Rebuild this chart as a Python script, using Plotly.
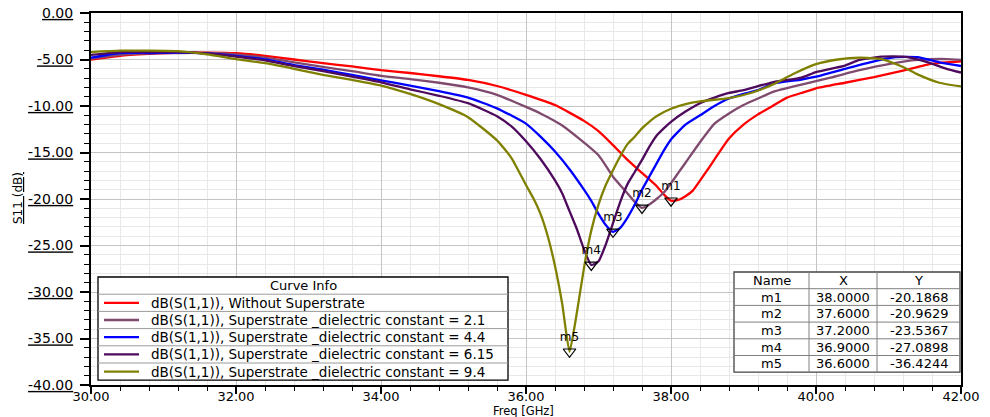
import plotly.graph_objects as go

# ---------------- data ----------------
freq_red = [30.0, 30.4, 30.8, 31.2, 31.6, 32.0, 32.4, 32.8, 33.2, 33.6, 34.0, 34.4, 34.8, 35.2, 35.6,
            36.0, 36.4, 36.8, 37.0, 37.2, 37.4, 37.6, 37.8, 37.9, 38.0, 38.1, 38.2, 38.3, 38.5, 38.8,
            39.0, 39.2, 39.4, 39.6, 39.8, 40.0, 40.4, 40.8, 41.2, 41.6, 42.0]
s11_red = [-5.0, -4.6, -4.4, -4.25, -4.25, -4.32, -4.6, -5.0, -5.4, -5.75, -6.15, -6.45, -6.8, -7.2, -7.85,
           -8.8, -9.9, -11.6, -12.7, -14.2, -15.8, -17.2, -18.6, -19.5, -20.1868, -20.1, -19.7, -19.1, -16.9, -13.5,
           -12.0, -10.9, -10.0, -9.1, -8.6, -8.1, -7.5, -6.9, -6.2, -5.45, -5.2]

freq_e21 = [30.0, 30.4, 30.8, 31.2, 31.6, 32.0, 32.4, 32.8, 33.2, 33.6, 34.0, 34.4, 34.8, 35.2, 35.6,
            36.0, 36.2, 36.5, 37.0, 37.2, 37.4, 37.5, 37.6, 37.7, 37.8, 37.9, 38.0, 38.1, 38.2, 38.4,
            38.6, 38.8, 39.0, 39.2, 39.4, 39.8, 40.2, 40.6, 41.0, 41.4, 41.8, 42.0]
s11_e21 = [-4.9, -4.5, -4.35, -4.3, -4.3, -4.45, -4.8, -5.3, -5.8, -6.25, -6.75, -7.1, -7.5, -8.0, -8.8,
           -10.1, -10.8, -12.1, -15.3, -17.6, -19.4, -20.3, -20.9629, -20.6, -20.0, -19.3, -18.3, -17.2, -16.1, -13.9,
           -11.9, -10.8, -9.9, -9.2, -8.5, -7.7, -6.95, -6.15, -5.5, -5.05, -4.95, -5.05]

freq_e44 = [30.0, 30.4, 30.8, 31.2, 31.6, 32.0, 32.4, 32.8, 33.2, 33.6, 34.0, 34.4, 34.8, 35.2, 35.6,
            36.0, 36.2, 36.4, 36.6, 36.8, 36.9, 37.0, 37.1, 37.2, 37.3, 37.4, 37.5, 37.6, 37.7, 37.8,
            37.9, 38.0, 38.2, 38.4, 38.6, 38.8, 39.0, 39.2, 39.4, 39.8, 40.0, 40.4, 40.8, 41.1, 41.4,
            41.7, 42.0]
s11_e44 = [-4.8, -4.3, -4.3, -4.25, -4.35, -4.6, -5.0, -5.6, -6.1, -6.65, -7.25, -7.8, -8.4, -9.1, -10.25,
           -11.9, -13.3, -14.9, -16.8, -19.0, -20.2, -21.6, -22.8, -23.5367, -23.1, -22.0, -20.6, -19.0, -17.6, -16.2,
           -14.8, -13.6, -12.0, -11.0, -10.0, -9.2, -8.7, -8.3, -7.6, -7.15, -6.85, -6.0, -5.2, -4.75, -4.75,
           -5.3, -5.7]

freq_e615 = [30.0, 30.4, 30.8, 31.2, 31.6, 32.0, 32.4, 32.8, 33.2, 33.6, 34.0, 34.4, 34.8, 35.2, 35.6,
             35.8, 36.0, 36.2, 36.4, 36.5, 36.6, 36.7, 36.8, 36.9, 37.0, 37.1, 37.2, 37.3, 37.4, 37.5,
             37.6, 37.7, 37.8, 37.9, 38.0, 38.2, 38.4, 38.6, 38.8, 39.0, 39.4, 39.8, 40.0, 40.4, 40.6,
             40.9, 41.2, 41.5, 41.8, 42.0]
s11_e615 = [-4.5, -4.2, -4.2, -4.2, -4.35, -4.7, -5.1, -5.7, -6.25, -6.85, -7.45, -8.2, -8.9, -9.7, -11.1,
            -12.2, -13.8, -15.7, -18.0, -19.4, -21.3, -23.2, -25.4, -27.0898, -26.7, -24.9, -22.6, -20.3, -18.4, -17.1,
            -15.8, -14.4, -13.2, -12.4, -11.7, -10.6, -9.7, -9.1, -8.6, -8.3, -7.45, -6.95, -6.35, -5.65, -5.05,
            -4.7, -4.7, -5.2, -6.0, -6.4]

freq_e94 = [30.0, 30.4, 30.8, 31.2, 31.6, 32.0, 32.4, 32.8, 33.2, 33.6, 34.0, 34.4, 34.8, 35.2, 35.6,
            35.8, 36.0, 36.1, 36.2, 36.3, 36.4, 36.5, 36.6, 36.7, 36.8, 36.9, 37.0, 37.1, 37.2, 37.3,
            37.4, 37.5, 37.6, 37.7, 37.8, 38.0, 38.2, 38.4, 38.8, 39.1, 39.4, 39.7, 40.0, 40.3, 40.6,
            40.9, 41.2, 41.4, 41.7, 42.0]
s11_e94 = [-4.2, -4.05, -4.05, -4.1, -4.45, -4.95, -5.4, -6.0, -6.65, -7.2, -7.8, -8.7, -9.8, -11.2, -13.7,
           -15.6, -18.5, -19.9, -21.6, -24.0, -27.2, -31.3, -36.4244, -32.3, -27.4, -23.4, -20.6, -18.5, -16.9, -15.4,
           -14.1, -13.3, -12.4, -11.7, -11.1, -10.3, -9.8, -9.5, -9.15, -8.6, -7.7, -6.5, -5.5, -5.0, -4.8,
           -4.95, -5.8, -6.6, -7.5, -7.9]

series_names = [
    "dB(S(1,1)), Without Superstrate",
    "dB(S(1,1)), Superstrate _dielectric constant = 2.1",
    "dB(S(1,1)), Superstrate _dielectric constant = 4.4",
    "dB(S(1,1)), Superstrate _dielectric constant = 6.15",
    "dB(S(1,1)), Superstrate _dielectric constant = 9.4",
]
series_x = [freq_red, freq_e21, freq_e44, freq_e615, freq_e94]
series_y = [s11_red, s11_e21, s11_e44, s11_e615, s11_e94]
series_colors = ["#ff0000", "#7f4a6e", "#0000ff", "#4e0a5c", "#808000"]

marker_names = ["m1", "m2", "m3", "m4", "m5"]
marker_x = [38.0, 37.6, 37.2, 36.9, 36.6]
marker_y = [-20.1868, -20.9629, -23.5367, -27.0898, -36.4244]

x_ticks = [30, 32, 34, 36, 38, 40, 42]
y_ticks = [0, -5, -10, -15, -20, -25, -30, -35, -40]

# ---------------- layout helpers ----------------
W, H = 990, 417
PL, PR, PT, PB = 91, 961, 13, 385
FONT = "DejaVu Sans, Arial, sans-serif"


def fx(px):
    return (px - PL) / (PR - PL)


def fy(py):
    return (PB - py) / (PB - PT)


fig = go.Figure()

for xs, ys, col, nm in zip(series_x, series_y, series_colors, series_names):
    fig.add_trace(go.Scatter(x=xs, y=ys, mode="lines", name=nm,
                             line=dict(color=col, width=2.3, shape="spline", smoothing=0.5),
                             showlegend=False))

fig.add_trace(go.Scatter(x=marker_x, y=marker_y, mode="markers+text", text=marker_names,
                         textposition="top center",
                         textfont=dict(family=FONT, size=12, color="black"),
                         marker=dict(symbol="triangle-down-open", size=11,
                                     color="black", line=dict(width=1.2, color="black")),
                         showlegend=False, cliponaxis=False))

shapes = []
annotations = []

# ---- Curve Info legend box ----
lx0, lx1 = 98, 508
ly0 = 277
row_h = 17.2
ly1 = ly0 + 6 * row_h
shapes.append(dict(type="rect", xref="paper", yref="paper", x0=fx(lx0), x1=fx(lx1),
                   y0=fy(ly1), y1=fy(ly0), fillcolor="white",
                   line=dict(color="black", width=1.3), layer="above"))
for i in range(1, 6):
    yy = ly0 + i * row_h
    shapes.append(dict(type="line", xref="paper", yref="paper", x0=fx(lx0), x1=fx(lx1),
                       y0=fy(yy), y1=fy(yy), line=dict(color="#9a9a9a", width=1), layer="above"))
annotations.append(dict(xref="paper", yref="paper", x=fx((lx0 + lx1) / 2), y=fy(ly0 + row_h / 2),
                        text="Curve Info", showarrow=False, xanchor="center", yanchor="middle",
                        font=dict(family=FONT, size=13, color="black")))
for i, (nm, col) in enumerate(zip(series_names, series_colors)):
    yc = ly0 + (i + 1.5) * row_h
    shapes.append(dict(type="line", xref="paper", yref="paper", x0=fx(104), x1=fx(139),
                       y0=fy(yc), y1=fy(yc), line=dict(color=col, width=2.3), layer="above"))
    annotations.append(dict(xref="paper", yref="paper", x=fx(149), y=fy(yc), text=nm,
                            showarrow=False, xanchor="left", yanchor="middle",
                            font=dict(family=FONT, size=13.5, color="black")))

# ---- marker table ----
tx0, tx1 = 734, 960
tcol = [734, 809, 877, 960]
ty0 = 272
trow = 16.7
ty1 = ty0 + 6 * trow
shapes.append(dict(type="rect", xref="paper", yref="paper", x0=fx(tx0), x1=fx(tx1),
                   y0=fy(ty1), y1=fy(ty0), fillcolor="white",
                   line=dict(color="#444444", width=1.3), layer="above"))
for i in range(1, 6):
    yy = ty0 + i * trow
    shapes.append(dict(type="line", xref="paper", yref="paper", x0=fx(tx0), x1=fx(tx1),
                       y0=fy(yy), y1=fy(yy), line=dict(color="#808080", width=1), layer="above"))
for cx in tcol[1:3]:
    shapes.append(dict(type="line", xref="paper", yref="paper", x0=fx(cx), x1=fx(cx),
                       y0=fy(ty1), y1=fy(ty0), line=dict(color="#808080", width=1), layer="above"))
table_rows = [["Name", "X", "Y"]] + [
    [n, f"{x:.4f}", f"{y:.4f}"] for n, x, y in zip(marker_names, marker_x, marker_y)]
for r, row in enumerate(table_rows):
    yc = ty0 + (r + 0.5) * trow
    for c, txt in enumerate(row):
        xc = (tcol[c] + tcol[c + 1]) / 2
        annotations.append(dict(xref="paper", yref="paper", x=fx(xc), y=fy(yc), text=txt,
                                showarrow=False, xanchor="center", yanchor="middle",
                                font=dict(family=FONT, size=13, color="black")))

# ---- axis titles ----
annotations.append(dict(xref="paper", yref="paper", x=fx(523), y=fy(410.5), text="Freq [GHz]",
                        showarrow=False, xanchor="center", yanchor="middle",
                        font=dict(family=FONT, size=11.5, color="black")))
annotations.append(dict(xref="paper", yref="paper", x=fx(18), y=fy(198), text="<u>S11 (dB)</u>",
                        textangle=-90, showarrow=False, xanchor="center", yanchor="middle",
                        font=dict(family=FONT, size=12, color="black")))

fig.update_layout(
    width=W, height=H,
    margin=dict(l=PL, r=W - PR, t=PT, b=H - PB, autoexpand=False),
    paper_bgcolor="white", plot_bgcolor="white",
    shapes=shapes, annotations=annotations,
    showlegend=False,
    font=dict(family=FONT, size=12, color="black"),
)

fig.update_xaxes(
    range=[30, 42], tickvals=x_ticks, ticktext=[f"{v:.2f}" for v in x_ticks],
    automargin=False,
    showgrid=True, gridcolor="#c4c4c4", gridwidth=1,
    showline=True, linecolor="black", linewidth=2, mirror=True,
    ticks="outside", ticklen=7, tickwidth=1.5, tickcolor="black",
    ticklabelstandoff=-9,
    tickfont=dict(family=FONT, size=13, color="black"),
    minor=dict(dtick=0.4, tick0=30, showgrid=True, gridcolor="#e8e8e8", gridwidth=1,
               ticks="outside", ticklen=4, tickcolor="black", tickwidth=1),
    zeroline=False,
)
fig.update_yaxes(
    range=[-40, 0], tickvals=y_ticks, ticktext=[f"<u>{v:.2f}</u>" for v in y_ticks],
    automargin=False,
    showgrid=True, gridcolor="#c4c4c4", gridwidth=1,
    showline=True, linecolor="black", linewidth=2, mirror=True,
    ticks="outside", ticklen=9, tickwidth=1.5, tickcolor="black",
    ticklabelstandoff=4,
    tickfont=dict(family=FONT, size=14, color="black"),
    minor=dict(dtick=1, tick0=0, showgrid=True, gridcolor="#e8e8e8", gridwidth=1,
               ticks="outside", ticklen=5, tickcolor="black", tickwidth=1),
    zeroline=False,
)

fig.write_html("out.html")
